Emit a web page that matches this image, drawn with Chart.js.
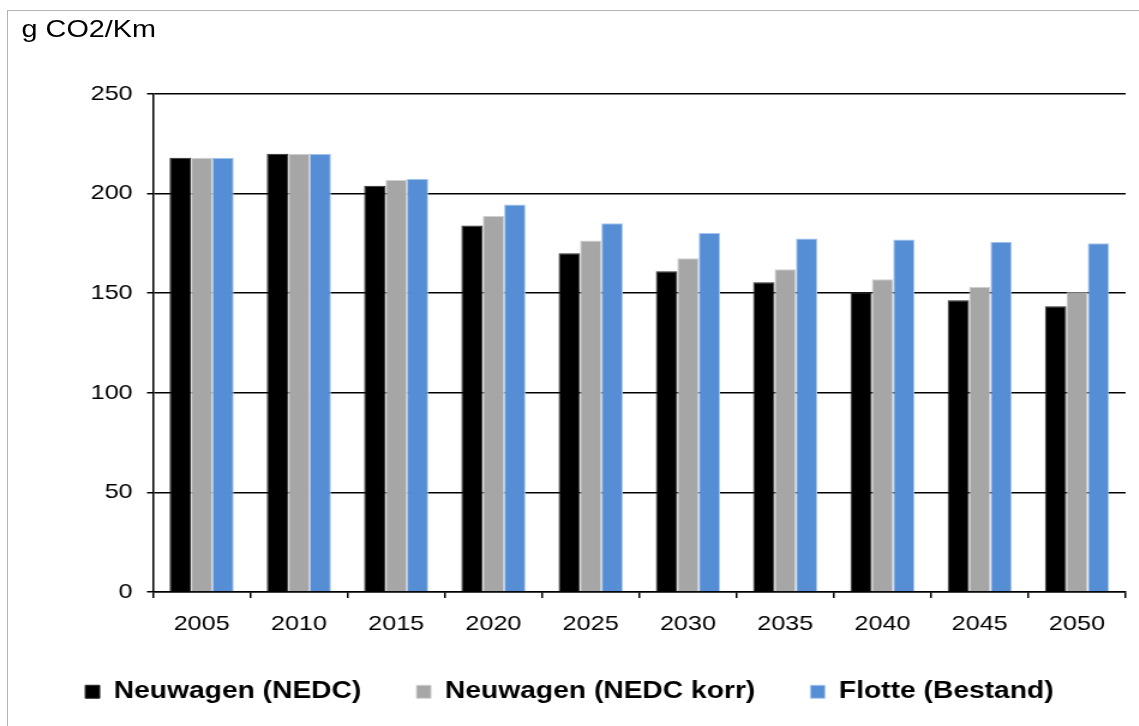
<!DOCTYPE html>
<html>
<head>
<meta charset="utf-8">
<script src="https://cdn.jsdelivr.net/npm/chart.js@4.4.1/dist/chart.umd.min.js"></script>
<style>
  html, body { margin: 0; padding: 0; background: #ffffff; overflow: hidden; }
  body { width: 1139px; height: 726px; position: relative; }
  #frame { position: absolute; left: 7px; top: 10px; width: 1300px; height: 900px; border: 1px solid #b3b3b3; }
  #wrap { position: absolute; left: 0; top: 0; width: 949px; height: 726px; transform: scaleX(1.2); transform-origin: 0 0; }
  #title { position: absolute; left: 18px; top: 17px; font-family: "Liberation Sans", Arial, sans-serif; font-size: 24px; line-height: 24px; color: #000; white-space: nowrap; }
  #c { position: absolute; left: 0; top: 0; }
</style>
</head>
<body>
<div id="frame"></div>
<div id="wrap">
  <div id="title">g CO2/Km</div>
  <canvas id="c" width="949" height="726"></canvas>
</div>
<script>
const categories = ["2005", "2010", "2015", "2020", "2025", "2030", "2035", "2040", "2045", "2050"];
const seriesNames = ["Neuwagen (NEDC)", "Neuwagen (NEDC korr)", "Flotte (Bestand)"];
const neuwagenNEDC = [218, 220, 204, 184, 170, 161, 155.5, 150.5, 146.5, 143.5];
const neuwagenKorr = [218, 220, 206.8, 188.8, 176.4, 167.5, 162, 157, 153.2, 150.5];
const flotteBestand = [218, 220, 207.4, 194.5, 185.1, 180.2, 177.5, 177, 175.8, 175.1];
const yTicks = [0, 50, 100, 150, 200, 250];

const FONT = '"Liberation Sans", Arial, sans-serif';

new Chart(document.getElementById('c'), {
  type: 'bar',
  data: {
    labels: categories,
    datasets: [
      { label: seriesNames[0], data: neuwagenNEDC, backgroundColor: '#000000', borderColor: '#2a2a2a', borderWidth: 1 },
      { label: seriesNames[1], data: neuwagenKorr, backgroundColor: '#a6a6a6', borderColor: '#cfcfcf', borderWidth: 1 },
      { label: seriesNames[2], data: flotteBestand, backgroundColor: '#558ed5', borderColor: '#a9c6ee', borderWidth: 1 }
    ]
  },
  options: {
    responsive: false,
    animation: false,
    devicePixelRatio: 1,
    layout: { padding: { top: 94, right: 0, left: 0, bottom: 12.5 } },
    datasets: { bar: { categoryPercentage: 0.66, barPercentage: 1.0 } },
    plugins: {
      title: { display: false },
      tooltip: { enabled: false },
      legend: {
        position: 'bottom',
        align: 'center',
        labels: {
          boxWidth: 12,
          boxHeight: 13,
          padding: 46,
          color: '#000',
          font: { family: FONT, size: 23.5, weight: 'bold' }
        }
      }
    },
    scales: {
      x: {
        afterFit: (s) => { s.height = 42; },
        grid: { display: true, drawOnChartArea: false, drawTicks: true, tickLength: 6, color: '#000', lineWidth: 1.5, offset: true },
        border: { display: true, color: '#000', width: 1.5 },
        ticks: { color: '#000', padding: 14, font: { family: FONT, size: 21 } }
      },
      y: {
        min: 0,
        max: 250,
        afterFit: (s) => { s.width = 127.5; },
        afterBuildTicks: (s) => { s.ticks = yTicks.map(v => ({ value: v })); },
        grid: { color: '#000', lineWidth: 1.5, drawTicks: true, tickLength: 5 },
        border: { display: true, color: '#000', width: 1.5 },
        ticks: { color: '#000', padding: 12, font: { family: FONT, size: 21 } }
      },
      yRight: {
        position: 'right',
        display: true,
        min: 0,
        max: 250,
        afterFit: (s) => { s.width = 11; },
        grid: { display: false, drawTicks: false },
        border: { display: false },
        ticks: { display: false }
      }
    }
  }
});
</script>
</body>
</html>
